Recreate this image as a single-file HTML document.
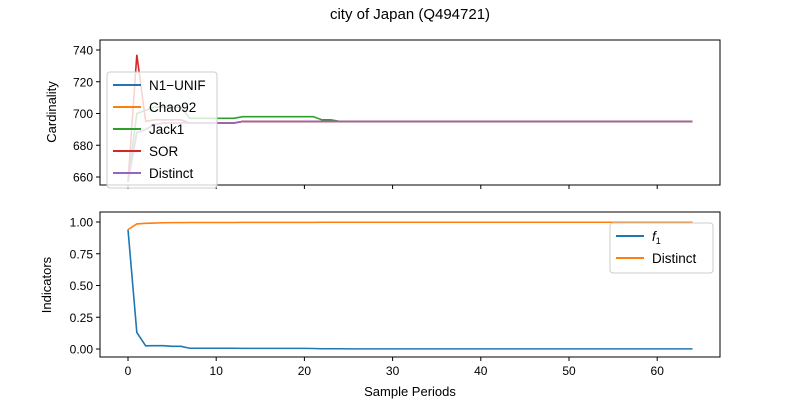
<!DOCTYPE html>
<html><head><meta charset="utf-8"><style>
body{margin:0;background:#fff;}
svg{font-family:"Liberation Sans","DejaVu Sans",sans-serif;}
</style></head><body>
<svg id="c" width="800" height="400"></svg>
<script>
const periods=[...Array(65).keys()];
const sor=[657,737,695,696,696,696,696,694,694,694,694,694,694,695,695,695,695,695,695,695,695,695,695,695,695,695,695,695,695,695,695,695,695,695,695,695,695,695,695,695,695,695,695,695,695,695,695,695,695,695,695,695,695,695,695,695,695,695,695,695,695,695,695,695,695];
const jack1=[657,700,702,704,704,704,704,697,697,697,697,697,697,698,698,698,698,698,698,698,698,698,696,696,695,695,695,695,695,695,695,695,695,695,695,695,695,695,695,695,695,695,695,695,695,695,695,695,695,695,695,695,695,695,695,695,695,695,695,695,695,695,695,695,695];
const distinct=[657,688,690,693,694,694,694,694,694,694,694,694,694,695,695,695,695,695,695,695,695,695,695,695,695,695,695,695,695,695,695,695,695,695,695,695,695,695,695,695,695,695,695,695,695,695,695,695,695,695,695,695,695,695,695,695,695,695,695,695,695,695,695,695,695];
const n1unif=distinct.slice();
const chao92=distinct.slice();
const f1=[0.94,0.13,0.025,0.026,0.026,0.021,0.021,0.006,0.006,0.006,0.006,0.006,0.006,0.005,0.005,0.005,0.005,0.005,0.005,0.005,0.005,0.004,0.002,0.002,0.002,0.001,0.001,0.001,0.001,0.001,0.001,0.001,0.001,0.001,0.001,0.001,0.001,0.001,0.001,0.001,0.001,0.001,0.001,0.001,0.001,0.001,0.001,0.001,0.001,0.001,0.001,0.001,0.001,0.001,0.001,0.001,0.001,0.001,0.001,0.001,0.001,0.001,0.001,0.001,0.001];
const distinctRatio=[0.94,0.985,0.99,0.992,0.994,0.995,0.995,0.996,0.996,0.996,0.996,0.996,0.996,0.997,0.997,0.997,0.997,0.997,0.997,0.997,0.997,0.997,0.998,0.998,0.998,0.998,0.998,0.998,0.998,0.998,0.998,0.998,0.998,0.998,0.998,0.998,0.998,0.998,0.998,0.998,0.998,0.998,0.998,0.998,0.998,0.998,0.998,0.998,0.998,0.998,0.998,0.998,0.998,0.998,0.998,0.998,0.998,0.998,0.998,0.998,0.998,0.998,0.998,0.998,0.998];
const xTicks=[0,10,20,30,40,50,60];
const topTicks=[660,680,700,720,740];
const botTicks=[0,0.25,0.5,0.75,1.0];
const botTickLabels=["0.00","0.25","0.50","0.75","1.00"];

const svg=document.getElementById('c');
const NS='http://www.w3.org/2000/svg';
function mk(tag,attrs,parent){const e=document.createElementNS(NS,tag);for(const k in attrs)e.setAttribute(k,attrs[k]);(parent||svg).appendChild(e);return e;}
const X=v=>128+(v)*8.82;
const Ytop=v=>50+(740-v)*1.5875;
const Ybot=v=>349-v*127;
function axes(y0,y1,name){
  const r=mk('rect',{x:100,y:y0,width:620,height:y1-y0,fill:'none',stroke:'#000','stroke-width':1});
  
  
  xTicks.forEach(t=>{mk('line',{x1:X(t),x2:X(t),y1:y1,y2:y1+4,stroke:'#000'});});
}
function line(xs,ys,Y,color,name){
  const p=mk('polyline',{points:xs.map((x,i)=>X(x)+','+Y(ys[i])).join(' '),fill:'none',stroke:color,'stroke-width':1.6});
  
  
}
const t=mk('text',{x:410,y:19,'font-size':15,'text-anchor':'middle'});t.textContent='city of Japan (Q494721)';


axes(40,185,'top-axes');
axes(212,357,'bottom-axes');
topTicks.forEach(v=>{mk('line',{x1:96,x2:100,y1:Ytop(v),y2:Ytop(v),stroke:'#000'});const l=mk('text',{x:93,y:Ytop(v)+4.5,'font-size':12,'text-anchor':'end'});l.textContent=v;

});
botTicks.forEach((v,i)=>{mk('line',{x1:96,x2:100,y1:Ybot(v),y2:Ybot(v),stroke:'#000'});const l=mk('text',{x:93,y:Ybot(v)+4.5,'font-size':12,'text-anchor':'end'});l.textContent=botTickLabels[i];

});
xTicks.forEach(v=>{const l=mk('text',{x:X(v),y:375,'font-size':12,'text-anchor':'middle'});l.textContent=v;

});
let a=mk('text',{x:410,y:396,'font-size':13,'text-anchor':'middle'});a.textContent='Sample Periods';


a=mk('text',{x:56,y:112,'font-size':13,'text-anchor':'middle',transform:'rotate(-90 56 112)'});a.textContent='Cardinality';


a=mk('text',{x:51,y:285,'font-size':13,'text-anchor':'middle',transform:'rotate(-90 51 285)'});a.textContent='Indicators';



line(periods,n1unif,Ytop,'#1f77b4','n1unif-line');
line(periods,chao92,Ytop,'#ff7f0e','chao92-line');
line(periods,jack1,Ytop,'#2ca02c','jack1-line');
line(periods,sor,Ytop,'#d62728','sor-line');
line(periods,distinct,Ytop,'#9467bd','distinct-line');
line(periods,f1,Ybot,'#1f77b4','f1-line');
line(periods,distinctRatio,Ybot,'#ff7f0e','distinct-ratio-line');

function legend(x,y,w,entries,name){
  const g=mk('g',{});
  
  
  mk('rect',{x:x,y:y,width:w,height:entries.length*22+6,rx:3,fill:'#fff','fill-opacity':0.8,stroke:'#ccc'},g);
  entries.forEach((e,i)=>{const cy=y+13+i*22;mk('line',{x1:x+6,x2:x+34,y1:cy,y2:cy,stroke:e[1],'stroke-width':2},g);
    const tx=mk('text',{x:x+42,y:cy+5,'font-size':13.5},g);tx.innerHTML=e[0];
    
    });
}
legend(107,72,110,[['N1\u2212UNIF','#1f77b4'],['Chao92','#ff7f0e'],['Jack1','#2ca02c'],['SOR','#d62728'],['Distinct','#9467bd']],'top-legend');
legend(610,223,103,[['<tspan font-style="italic">f</tspan><tspan font-size="9" dy="3">1</tspan>','#1f77b4'],['Distinct','#ff7f0e']],'bottom-legend');
</script>
</body></html>
